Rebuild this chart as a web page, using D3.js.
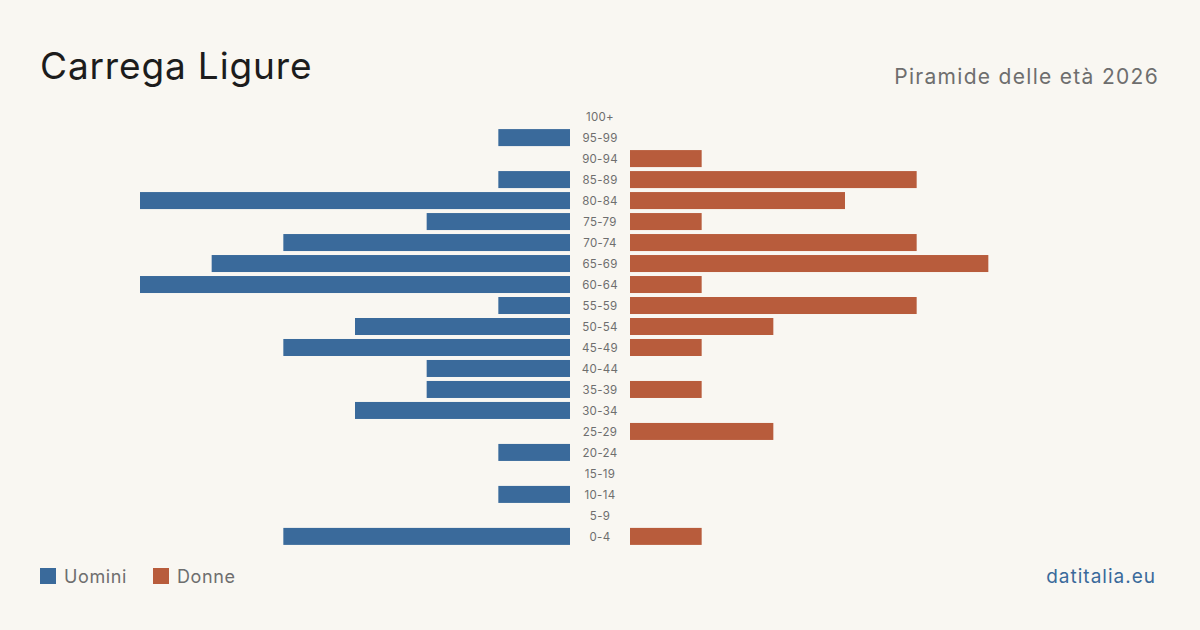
<!DOCTYPE html>
<html>
<head>
<meta charset="utf-8">
<script src="https://cdn.jsdelivr.net/npm/d3@7"></script>
<style>
  html, body { margin: 0; padding: 0; background: #f9f7f2; }
  svg { display: block; font-family: Inter, "Noto Sans", sans-serif; }
</style>
</head>
<body>
<div id="holder"></div>
<script>
const ageGroups = ["100+", "95-99", "90-94", "85-89", "80-84", "75-79", "70-74", "65-69", "60-64",
  "55-59", "50-54", "45-49", "40-44", "35-39", "30-34", "25-29", "20-24", "15-19", "10-14", "5-9", "0-4"];
const men   = [0, 1, 0, 1, 6, 2, 4, 5, 6, 1, 3, 4, 2, 2, 3, 0, 1, 0, 1, 0, 4];
const women = [0, 0, 1, 4, 3, 1, 4, 5, 1, 4, 2, 1, 0, 1, 0, 2, 0, 0, 0, 0, 1];
const legendLabels = ["Uomini", "Donne"];

const width = 1200;
const height = 630;
const blue = "#3a6a9b";
const orange = "#b85c3c";
const centre = 600;
const gap = 30;

const svg = d3.select("#holder")
    .append("svg")
    .attr("width", width)
    .attr("height", height);

svg.append("rect")
    .attr("width", width)
    .attr("height", height)
    .attr("fill", "#f9f7f2");

svg.append("text")
    .attr("x", 40)
    .attr("y", 79)
    .attr("fill", "#1c1c1c")
    .style("font-size", "37px")
    .style("letter-spacing", "0.85px")
    .text("Carrega Ligure");

svg.append("text")
    .attr("x", 1159)
    .attr("y", 84)
    .attr("text-anchor", "end")
    .attr("fill", "#6e6e6e")
    .style("font-size", "21px")
    .style("letter-spacing", "1.3px")
    .text("Piramide delle età 2026");

const yScale = d3.scaleBand()
    .domain(ageGroups)
    .range([106, 547])
    .paddingInner(0.19)
    .paddingOuter(0.1);

const xScale = d3.scaleLinear()
    .domain([0, 6])
    .range([0, 430]);

const rows = ageGroups.map((g, i) => ({ group: g, men: men[i], women: women[i] }));

svg.selectAll("rect.men")
    .data(rows.filter(d => d.men > 0))
    .enter()
    .append("rect")
    .attr("class", "men")
    .attr("x", d => centre - gap - xScale(d.men))
    .attr("y", d => yScale(d.group))
    .attr("width", d => xScale(d.men))
    .attr("height", yScale.bandwidth())
    .attr("fill", blue);

svg.selectAll("rect.women")
    .data(rows.filter(d => d.women > 0))
    .enter()
    .append("rect")
    .attr("class", "women")
    .attr("x", centre + gap)
    .attr("y", d => yScale(d.group))
    .attr("width", d => xScale(d.women))
    .attr("height", yScale.bandwidth())
    .attr("fill", orange);

svg.selectAll("text.age")
    .data(ageGroups)
    .enter()
    .append("text")
    .attr("class", "age")
    .attr("x", centre)
    .attr("y", d => yScale(d) + yScale.bandwidth() / 2 + 0.5)
    .attr("dy", "0.35em")
    .attr("text-anchor", "middle")
    .attr("fill", "#6e6e6e")
    .style("font-size", "11.5px")
    .style("letter-spacing", "0.3px")
    .text(d => d);

// legend
const legendX = [40, 153];
const legend = svg.selectAll("g.legend")
    .data(legendLabels)
    .enter()
    .append("g")
    .attr("class", "legend")
    .attr("transform", (d, i) => `translate(${legendX[i]}, 568)`);

legend.append("rect")
    .attr("width", 16)
    .attr("height", 16)
    .attr("fill", (d, i) => i === 0 ? blue : orange);

legend.append("text")
    .attr("x", 24)
    .attr("y", 15)
    .attr("fill", "#6e6e6e")
    .style("font-size", "18px")
    .style("letter-spacing", "0.6px")
    .text(d => d);

svg.append("text")
    .attr("x", 1156)
    .attr("y", 583)
    .attr("text-anchor", "end")
    .attr("fill", blue)
    .style("font-size", "19px")
    .style("letter-spacing", "1px")
    .text("datitalia.eu");
</script>
</body>
</html>
